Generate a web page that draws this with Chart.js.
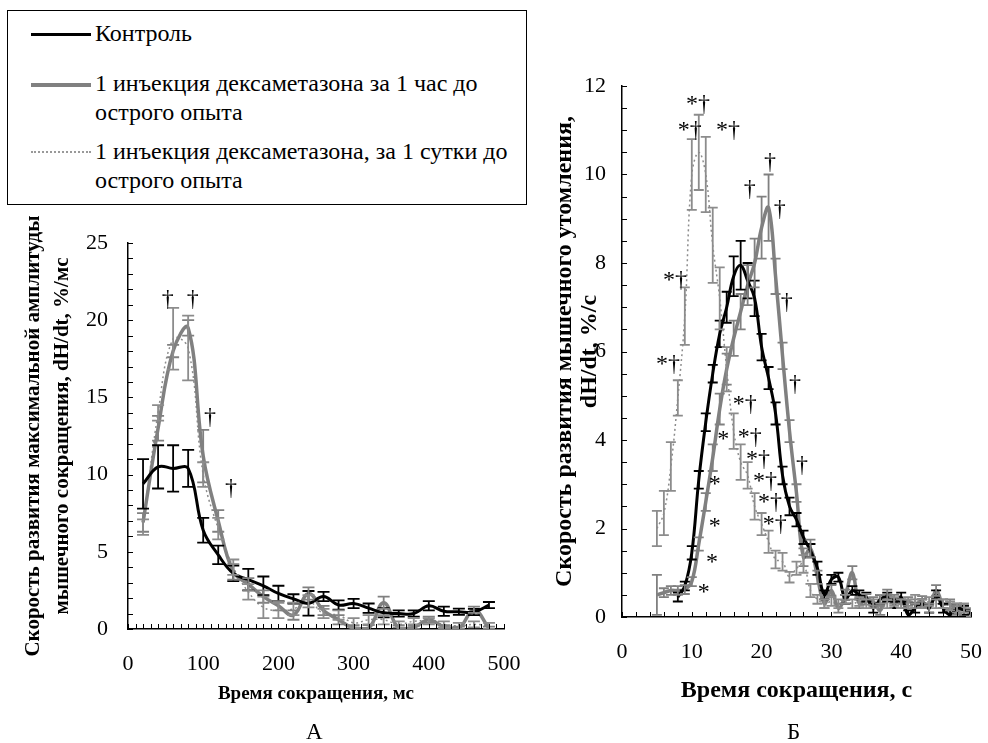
<!DOCTYPE html>
<html>
<head>
<meta charset="utf-8">
<title>Скорость развития сокращения и утомления</title>
<script src="https://cdn.jsdelivr.net/npm/chart.js"></script>
<style>
  body { margin: 0; background: #fff; font-family: 'Liberation Serif'; color: #000; }
  #page { position: relative; width: 988px; height: 743px; overflow: hidden; }
  #legend { position: absolute; left: 7px; top: 10px; width: 520px; height: 195px; border: 1px solid #000; box-sizing: border-box; }
  .item { position: absolute; left: 23px; font-family: 'Liberation Serif'; font-size: 24px; line-height: 29px; }
  .sample { position: absolute; left: 0; top: 14px; width: 60px; }
  .txt { position: absolute; left: 64px; top: 0; white-space: nowrap; }
  #chartA { position: absolute; left: 0; top: 200px; }
  #chartB { position: absolute; left: 520px; top: 60px; }
  .panel { position: absolute; top: 719px; font-family: 'Liberation Serif'; font-size: 23px; }
</style>
</head>
<body>
<div id="page">
  <div id="legend">
    <div class="item" style="top:8px">
      <div class="sample" style="border-top:3px solid #000"></div>
      <div class="txt">Контроль</div>
    </div>
    <div class="item" style="top:58px">
      <div class="sample" style="border-top:4px solid #808080"></div>
      <div class="txt">1 инъекция дексаметазона за 1 час до<br>острого опыта</div>
    </div>
    <div class="item" style="top:126px">
      <div class="sample" style="border-top:2px dotted #999"></div>
      <div class="txt">1 инъекция дексаметазона, за 1 сутки до<br>острого опыта</div>
    </div>
  </div>
  <canvas id="chartA" width="520" height="520"></canvas>
  <canvas id="chartB" width="468" height="660"></canvas>
  <div class="panel" style="left:306px">А</div>
  <div class="panel" style="left:787px">Б</div>
</div>
<script>
// ---- panel A: time of contraction, ms ----
const timeA = [20, 40, 60, 80, 100, 120, 140, 160, 180, 200, 220, 240, 260, 280, 300, 320, 340, 360, 380, 400, 420, 440, 460, 480];
const controlA = [9.4, 10.5, 10.4, 10.4, 6.4, 4.8, 3.6, 3.2, 2.8, 2.3, 1.95, 1.66, 2.1, 1.55, 1.65, 1.35, 1.05, 1.0, 1.0, 1.5, 1.15, 1.12, 1.1, 1.55];
const controlAErr = [1.6, 1.4, 1.5, 1.2, 0.8, 0.6, 0.5, 0.7, 0.6, 0.5, 0.3, 0.8, 0.3, 0.3, 0.3, 0.3, 0.3, 0.2, 0.2, 0.3, 0.3, 0.2, 0.2, 0.2];
const hourA = [6.9, 13.0, 18.0, 19.5, 11.2, 7.0, 3.7, 2.9, 2.1, 1.5, 0.9, 2.3, 1.2, 0.6, 0.05, 0.05, 1.7, 0.05, 0.1, 0.6, 0.15, 0.05, 1.25, 0.05];
const hourAErr = [0.6, 0.8, 0.4, 0.5, 1.7, 0.7, 0.5, 0.4, 0.4, 0.3, 0.3, 0.4, 0.3, 0.3, 0.2, 0.2, 0.4, 0.2, 0.1, 0.2, 0.1, 0.1, 0.2, 0.1];
const dayA = [6.6, 14.0, 18.8, 18.2, 10.0, 6.5, 4.0, 2.4, 1.4, 1.2, 1.3, 1.8, 1.0, 0.9, 0.4, 0.6, 0.6, 0.3, 0.5, 0.5, 0.3, 0.2, 0.3, 0.2];
const dayAErr = [0.5, 0.5, 2.0, 2.1, 0.8, 0.7, 0.5, 0.5, 0.7, 0.5, 0.4, 0.4, 0.3, 0.3, 0.3, 0.3, 0.3, 0.2, 0.2, 0.2, 0.2, 0.2, 0.2, 0.2];
const marksAX = [53, 86, 109, 137];
const marksAY = [21.3, 21.3, 13.7, 9.1];
const marksAText = ['†', '†', '†', '†'];

// ---- panel B: time of contraction, s ----
const timeB = [5, 6, 7, 8, 9, 10, 11, 12, 13, 14, 15, 16, 17, 18, 19, 20, 21, 22, 23, 24, 25, 26, 27, 28, 29, 30, 31, 32, 33, 34, 35, 36, 37, 38, 39, 40, 41, 42, 43, 44, 45, 46, 47, 48, 49, 50];
const controlB = [null, null, null, 0.45, 0.7, 1.45, 3.1, 4.4, 5.5, 6.4, 7.0, 7.7, 7.95, 7.6, 7.2, 6.1, 5.4, 4.6, 3.2, 2.5, 2.2, 1.8, 1.5, 1.1, 0.5, 0.85, 0.9, 0.4, 0.6, 0.5, 0.45, 0.2, 0.4, 0.45, 0.3, 0.45, 0.05, 0.2, 0.3, 0.2, 0.5, 0.2, 0.05, 0.2, 0.15, 0.08];
const controlBErr = [null, null, null, 0.1, 0.1, 0.15, 0.2, 0.2, 0.2, 0.3, 0.35, 0.45, 0.55, 0.4, 0.4, 0.3, 0.25, 0.25, 0.2, 0.2, 0.15, 0.15, 0.15, 0.15, 0.1, 0.1, 0.1, 0.1, 0.1, 0.1, 0.1, 0.1, 0.1, 0.1, 0.1, 0.1, 0.1, 0.1, 0.1, 0.1, 0.1, 0.1, 0.1, 0.1, 0.1, 0.1];
const hourB = [0.5, 0.55, 0.6, 0.6, 0.62, 0.8, 1.65, 2.6, 3.6, 4.7, 5.6, 6.3, 6.9, 7.5, 8.0, 8.8, 9.25, 7.7, 5.9, 4.2, 2.8, 1.35, 1.55, 0.9, 0.3, 0.6, 0.2, 0.5, 1.0, 0.3, 0.4, 0.35, 0.15, 0.5, 0.4, 0.3, 0.35, 0.3, 0.35, 0.2, 0.6, 0.3, 0.3, 0.15, 0.2, 0.05];
const hourBErr = [0.45, 0.1, 0.1, 0.1, 0.1, 0.1, 0.15, 0.2, 0.3, 0.35, 0.35, 0.4, 0.4, 0.45, 0.55, 0.7, 0.75, 0.4, 0.3, 0.25, 0.2, 0.2, 0.2, 0.15, 0.1, 0.12, 0.1, 0.12, 0.15, 0.1, 0.12, 0.1, 0.1, 0.12, 0.1, 0.1, 0.1, 0.1, 0.12, 0.1, 0.12, 0.1, 0.1, 0.1, 0.1, 0.1];
const dayB = [2.0, 2.35, 3.4, 4.95, 6.8, 10.0, 10.5, 10.0, 8.4, 7.2, 5.6, 4.2, 3.5, 3.2, 2.5, 2.1, 1.7, 1.3, 1.25, 0.9, 1.1, 1.2, 0.6, 0.4, 0.3, 0.35, 0.3, 0.4, 0.3, 0.35, 0.3, 0.3, 0.4, 0.3, 0.35, 0.3, 0.3, 0.4, 0.3, 0.35, 0.3, 0.3, 0.25, 0.2, 0.2, 0.1];
const dayBErr = [0.4, 0.5, 0.55, 0.4, 0.65, 0.8, 0.85, 0.85, 0.85, 0.7, 0.5, 0.4, 0.4, 0.3, 0.3, 0.25, 0.25, 0.2, 0.2, 0.12, 0.15, 0.2, 0.15, 0.1, 0.1, 0.1, 0.1, 0.1, 0.1, 0.1, 0.1, 0.1, 0.1, 0.1, 0.1, 0.1, 0.1, 0.1, 0.1, 0.1, 0.1, 0.1, 0.1, 0.1, 0.1, 0.1];
const marksBX = [9.7, 10.9, 15.2, 18.3, 21.2, 22.6, 23.6, 24.8, 25.8, 7.6, 6.6, 17.6, 18.3, 19.5, 20.5, 21.2, 21.9, 14.5, 13.3, 13.3, 12.9, 11.7];
const marksBY = [11.0, 11.57, 11.0, 9.65, 10.26, 9.2, 7.1, 5.24, 3.43, 7.6, 5.7, 4.8, 4.05, 3.55, 3.05, 2.58, 2.08, 4.0, 3.0, 2.03, 1.22, 0.56];
const marksBText = ['*†', '*†', '*†', '†', '†', '†', '†', '†', '†', '*†', '*†', '*†', '*†', '*†', '*†', '*†', '*†', '*', '*', '*', '*', '*'];

const FONT = "'Liberation Serif'";
const GRAY = '#808080';

function points(xs, ys) {
  return xs.map((x, i) => ({ x: x, y: ys[i] }));
}

// error bars, drawn from each dataset's err array
const errorBars = {
  id: 'errorBars',
  afterDatasetsDraw(chart) {
    const ctx = chart.ctx, xs = chart.scales.x, ys = chart.scales.y;
    const a = chart.chartArea;
    ctx.save();
    ctx.beginPath();
    ctx.rect(a.left, a.top - 20, a.right - a.left, a.bottom - a.top + 20);
    ctx.clip();
    chart.data.datasets.forEach(ds => {
      if (!ds.err) return;
      ctx.strokeStyle = ds.barColor;
      ctx.lineWidth = 1.8;
      const cap = ds.cap || 6;
      ds.data.forEach((p, j) => {
        const e = ds.err[j];
        if (p.y == null || e == null) return;
        const px = xs.getPixelForValue(p.x);
        const y1 = ys.getPixelForValue(p.y + e);
        const y2 = ys.getPixelForValue(p.y - e);
        ctx.beginPath();
        ctx.moveTo(px, y1); ctx.lineTo(px, y2);
        ctx.moveTo(px - cap, y1); ctx.lineTo(px + cap, y1);
        ctx.moveTo(px - cap, y2); ctx.lineTo(px + cap, y2);
        ctx.stroke();
      });
    });
    ctx.restore();
  }
};

// inward tick marks on both axes
const innerTicks = {
  id: 'innerTicks',
  afterDraw(chart, args, opts) {
    const ctx = chart.ctx, xs = chart.scales.x, ys = chart.scales.y;
    const a = chart.chartArea;
    ctx.save();
    ctx.strokeStyle = '#000';
    ctx.lineWidth = 1;
    ctx.beginPath();
    for (let v = xs.min; v <= xs.max + 1e-9; v += opts.x) {
      const px = Math.round(xs.getPixelForValue(v)) + 0.5;
      ctx.moveTo(px, a.bottom); ctx.lineTo(px, a.bottom - 5);
    }
    for (let v = ys.min; v <= ys.max + 1e-9; v += opts.y) {
      const py = Math.round(ys.getPixelForValue(v)) + 0.5;
      ctx.moveTo(a.left, py); ctx.lineTo(a.left + 5, py);
    }
    ctx.stroke();
    ctx.restore();
  }
};

// significance marks (*, †) placed in data coordinates
const marks = {
  id: 'marks',
  afterDatasetsDraw(chart, args, opts) {
    const ctx = chart.ctx, xs = chart.scales.x, ys = chart.scales.y;
    ctx.save();
    ctx.fillStyle = '#000';
    ctx.font = opts.size + 'px ' + FONT;
    ctx.textAlign = 'center';
    ctx.textBaseline = 'middle';
    opts.x.forEach((x, i) => {
      ctx.fillText(opts.t[i], xs.getPixelForValue(x), ys.getPixelForValue(opts.y[i]));
    });
    ctx.restore();
  }
};

function series(label, xs, ys, err, style) {
  return Object.assign({
    label: label,
    data: points(xs, ys),
    err: err,
    pointRadius: 0,
    tension: 0.4,
    fill: false
  }, style);
}

function makeChart(id, cfg) {
  return new Chart(document.getElementById(id), {
    type: 'line',
    data: {
      datasets: [
        series('Контроль', cfg.x, cfg.control, cfg.controlErr, { borderColor: '#000', borderWidth: 3, barColor: '#000', cap: cfg.cap }),
        series('1 инъекция дексаметазона за 1 час до острого опыта', cfg.x, cfg.hour, cfg.hourErr, { borderColor: GRAY, borderWidth: 3.5, barColor: GRAY, cap: cfg.cap }),
        series('1 инъекция дексаметазона, за 1 сутки до острого опыта', cfg.x, cfg.day, cfg.dayErr, { borderColor: '#8c8c8c', borderWidth: 1.5, borderDash: [2, 3], barColor: '#8c8c8c', cap: cfg.cap })
      ]
    },
    options: {
      responsive: false,
      animation: false,
      layout: { padding: { top: cfg.padTop, right: cfg.padRight, left: 0, bottom: 0 } },
      plugins: {
        legend: { display: false },
        tooltip: { enabled: false },
        innerTicks: { x: cfg.minorX, y: cfg.minorY },
        marks: { x: cfg.markX, y: cfg.markY, t: cfg.markT, size: cfg.markSize }
      },
      scales: {
        x: {
          type: 'linear', min: 0, max: cfg.xMax,
          grid: { display: false, drawTicks: false },
          border: { color: '#000', width: 1.5 },
          ticks: { stepSize: cfg.xStep, color: '#000', padding: 22, font: { family: FONT, size: 22 } },
          title: { display: true, text: cfg.xTitle, color: '#000', padding: { top: 0, bottom: 15 }, font: { family: FONT, size: cfg.xTitleSize, weight: 'bold' } },
          afterFit: s => { s.height = cfg.xHeight; s.paddingLeft = 0; s.paddingRight = 0; }
        },
        y: {
          min: 0, max: cfg.yMax,
          grid: { display: false, drawTicks: false },
          border: { color: '#000', width: 1.5 },
          ticks: { stepSize: cfg.yStep, color: '#000', padding: cfg.yPad, font: { family: FONT, size: 22 } },
          title: { display: true, text: cfg.yTitle, color: '#000', padding: { top: cfg.yTitlePad, bottom: 0 }, font: { family: FONT, size: cfg.yTitleSize, weight: 'bold', lineHeight: cfg.titleLH } },
          afterFit: s => { s.width = cfg.yWidth; s.paddingTop = 0; s.paddingBottom = 0; }
        }
      }
    },
    plugins: [errorBars, innerTicks, marks]
  });
}

makeChart('chartA', {
  x: timeA, control: controlA, controlErr: controlAErr, hour: hourA, hourErr: hourAErr, day: dayA, dayErr: dayAErr,
  xMax: 500, xStep: 100, yMax: 25, yStep: 5, minorX: 10, minorY: 1, cap: 6,
  padTop: 43, padRight: 16, xHeight: 91, yWidth: 128, yPad: 20,
  xTitleSize: 19, yTitleSize: 21, titleLH: 1.38, yTitlePad: 19,
  xTitle: 'Время сокращения, мс',
  yTitle: ['Скорость развития максимальной амплитуды', 'мышечного сокращения, dH/dt, %/мс'],
  markX: marksAX, markY: marksAY, markT: marksAText, markSize: 24
});

makeChart('chartB', {
  x: timeB, control: controlB, controlErr: controlBErr, hour: hourB, hourErr: hourBErr, day: dayB, dayErr: dayBErr,
  xMax: 50, xStep: 10, yMax: 12, yStep: 2, minorX: 2, minorY: 0.5, cap: 5,
  padTop: 26, padRight: 17, xHeight: 103, yWidth: 102, yPad: 16,
  xTitleSize: 24, yTitleSize: 24, titleLH: 1.05, yTitlePad: 32,
  xTitle: 'Время сокращения, с',
  yTitle: ['Скорость развития мышечного утомления,', 'dH/dt, %/с'],
  markX: marksBX, markY: marksBY, markT: marksBText, markSize: 24
});
</script>
</body>
</html>
